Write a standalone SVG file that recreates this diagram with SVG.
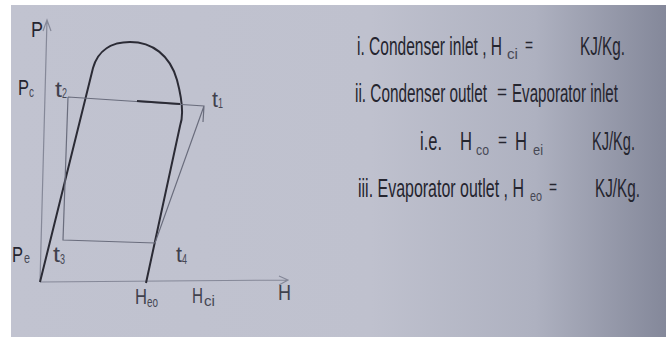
<svg xmlns="http://www.w3.org/2000/svg" width="670" height="338" viewBox="0 0 670 338">
<defs>
<linearGradient id="bg" x1="0" y1="0" x2="1" y2="0">
<stop offset="0" stop-color="#c1c3d0"/>
<stop offset="0.55" stop-color="#bfc1ce"/>
<stop offset="0.8" stop-color="#aeb1c0"/>
<stop offset="1" stop-color="#84889a"/>
</linearGradient>
<style>
.t{font-family:"Liberation Sans",Arial,sans-serif;fill:#25252f;}
.big{font-size:25px;}
.eq{font-size:21px;}
.sub{font-size:14px;fill:#474854;}
.lab{font-size:22px;}
.labg{font-size:22px;fill:#40414d;}
.sublab{font-size:14px;fill:#474854;}
.axis{fill:none;stroke:#858898;stroke-width:1.2;}
.thick{fill:none;stroke:#2b2b35;stroke-width:2;}
.thin{fill:none;stroke:#6a6d7d;stroke-width:1.2;}
</style>
</defs>
<rect width="670" height="338" fill="#ffffff"/>
<rect x="11" y="5" width="655" height="332" fill="url(#bg)"/>

<g id="connectors">
<path class="axis" d="M40,282 L47,20 M43,31 L47,20 L51,31"/>
<path class="axis" d="M40,282 L288,280 M279,276 L288,280 L279,285"/>
<path class="thick" d="M40,282 L93,68 C98,50 112,42 130,42 C152,42 170,55 177,80 C181,95 184,115 180,126 L146,283"/>
<path class="thin" d="M68,97 L204,106 L203,122 M204,106 L155,243 L63,240 L68,97"/>
<path class="thick" d="M137,101 L180,104"/>
</g>

<g id="axis-labels">
<text class="t lab" x="31" y="37" textLength="12" lengthAdjust="spacingAndGlyphs">P</text>
<text class="t lab" x="18" y="95" textLength="11" lengthAdjust="spacingAndGlyphs">P</text>
<text class="t sublab" x="29" y="97" textLength="5" lengthAdjust="spacingAndGlyphs">c</text>
<text class="t lab" x="12" y="262" textLength="11" lengthAdjust="spacingAndGlyphs">P</text>
<text class="t sublab" x="24" y="263" textLength="6" lengthAdjust="spacingAndGlyphs">e</text>
<text class="t labg" x="55" y="97" textLength="7" lengthAdjust="spacingAndGlyphs">t</text>
<text class="t sublab" x="62" y="98" textLength="5" lengthAdjust="spacingAndGlyphs">2</text>
<text class="t labg" x="212" y="107" textLength="6" lengthAdjust="spacingAndGlyphs">t</text>
<text class="t sublab" x="218" y="108" textLength="5" lengthAdjust="spacingAndGlyphs">1</text>
<text class="t labg" x="53" y="262" textLength="7" lengthAdjust="spacingAndGlyphs">t</text>
<text class="t sublab" x="60" y="264" textLength="5" lengthAdjust="spacingAndGlyphs">3</text>
<text class="t labg" x="176" y="262" textLength="6" lengthAdjust="spacingAndGlyphs">t</text>
<text class="t sublab" x="182" y="264" textLength="5" lengthAdjust="spacingAndGlyphs">4</text>
<text class="t labg" x="135" y="304" textLength="12" lengthAdjust="spacingAndGlyphs">H</text>
<text class="t sublab" x="147" y="307" textLength="11" lengthAdjust="spacingAndGlyphs">eo</text>
<text class="t labg" x="192" y="303" textLength="11" lengthAdjust="spacingAndGlyphs">H</text>
<text class="t sublab" x="204" y="306" textLength="11" lengthAdjust="spacingAndGlyphs">ci</text>
<text class="t labg" x="278" y="300" textLength="13" lengthAdjust="spacingAndGlyphs">H</text>
</g>

<g id="line1">
<text class="t big" x="357" y="55" textLength="145" lengthAdjust="spacingAndGlyphs">i. Condenser inlet , H</text>
<text class="t sub" x="507" y="59" textLength="11" lengthAdjust="spacingAndGlyphs">ci</text>
<text class="t eq" x="525" y="52" textLength="8" lengthAdjust="spacingAndGlyphs">=</text>
<text class="t big" x="580" y="55" textLength="45" lengthAdjust="spacingAndGlyphs">KJ/Kg.</text>
</g>
<g id="line2">
<text class="t big" x="355" y="102" textLength="132" lengthAdjust="spacingAndGlyphs">ii. Condenser outlet</text>
<text class="t eq" x="497" y="99" textLength="10" lengthAdjust="spacingAndGlyphs">=</text>
<text class="t big" x="512" y="102" textLength="106" lengthAdjust="spacingAndGlyphs">Evaporator inlet</text>
</g>
<g id="line3">
<text class="t big" x="420" y="150" textLength="22" lengthAdjust="spacingAndGlyphs">i.e.</text>
<text class="t big" x="460" y="150" textLength="12" lengthAdjust="spacingAndGlyphs">H</text>
<text class="t sub" x="476" y="155" textLength="13" lengthAdjust="spacingAndGlyphs">co</text>
<text class="t eq" x="498" y="147" textLength="9" lengthAdjust="spacingAndGlyphs">=</text>
<text class="t big" x="515" y="150" textLength="12" lengthAdjust="spacingAndGlyphs">H</text>
<text class="t sub" x="533" y="155" textLength="10" lengthAdjust="spacingAndGlyphs">ei</text>
<text class="t big" x="592" y="150" textLength="43" lengthAdjust="spacingAndGlyphs">KJ/Kg.</text>
</g>
<g id="line4">
<text class="t big" x="358" y="197" textLength="166" lengthAdjust="spacingAndGlyphs">iii. Evaporator outlet , H</text>
<text class="t sub" x="530" y="201" textLength="12" lengthAdjust="spacingAndGlyphs">eo</text>
<text class="t eq" x="549" y="194" textLength="8" lengthAdjust="spacingAndGlyphs">=</text>
<text class="t big" x="595" y="197" textLength="45" lengthAdjust="spacingAndGlyphs">KJ/Kg.</text>
</g>
</svg>
